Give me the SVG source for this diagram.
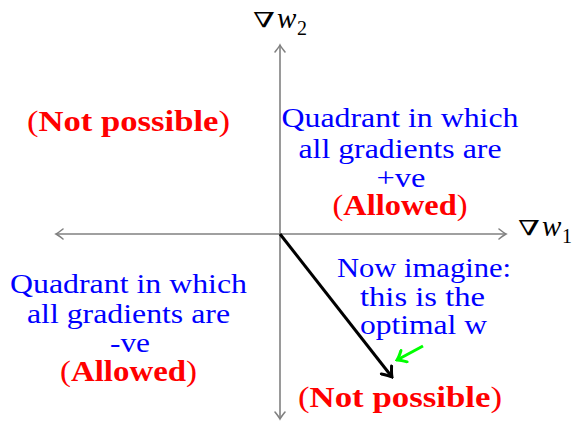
<svg xmlns="http://www.w3.org/2000/svg" width="576" height="422" viewBox="0 0 576 422">
<style>
text{font-family:"Liberation Serif","DejaVu Serif",serif;font-size:30px;text-anchor:middle}
.b{fill:#0000ff;font-size:27px}
.r{fill:#ff0000;font-weight:bold}
.p{font-weight:normal}
.lab text{text-anchor:start;fill:#000}
.nab{font-family:"DejaVu Serif",serif;font-size:21px}
.w{font-style:italic;font-size:29px}
.sub{font-size:20px}
.axis{stroke:#808080;stroke-width:1.6;fill:none}
</style>
<defs>
<marker id="ag" markerUnits="userSpaceOnUse" viewBox="-10 -7 12 14" refX="0" refY="0" markerWidth="12" markerHeight="14" orient="auto-start-reverse">
<path d="M-7,-5 Q-2,-1 0,0 Q-2,1 -7,5" fill="none" stroke="#808080" stroke-width="1.6" stroke-linecap="round"/>
</marker>
<marker id="ak" markerUnits="userSpaceOnUse" viewBox="-12 -8 14 16" refX="0" refY="0" markerWidth="14" markerHeight="16" orient="auto">
<path d="M-9,-6.5 Q-3,-1.5 0,0 Q-3,1.5 -9,6.5" fill="none" stroke="#000" stroke-width="3" stroke-linecap="round"/>
</marker>
<marker id="agr" markerUnits="userSpaceOnUse" viewBox="-12 -8 14 16" refX="0" refY="0" markerWidth="14" markerHeight="16" orient="auto">
<path d="M-8,-6.5 Q-3,-1.5 0,0 Q-3,1.5 -8,6.5" fill="none" stroke="#00ff00" stroke-width="3" stroke-linecap="round"/>
</marker>
</defs>
<g id="connectors">
<line id="xaxis" class="axis" x1="56" y1="234" x2="506" y2="234" marker-start="url(#ag)" marker-end="url(#ag)"/>
<line id="yaxis" class="axis" x1="280" y1="419" x2="280" y2="45" marker-start="url(#ag)" marker-end="url(#ag)"/>
<line id="optimal" x1="280" y1="234" x2="392" y2="377" stroke="#000" stroke-width="3" marker-end="url(#ak)"/>
<line id="pointer" x1="423" y1="346" x2="397" y2="360" stroke="#00ff00" stroke-width="3" marker-end="url(#agr)"/>
</g>
<g id="label-y" class="lab">
<text class="nab" x="253" y="27" textLength="22" lengthAdjust="spacingAndGlyphs">∇</text>
<text class="w" x="277" y="28">w</text>
<text class="sub" x="297" y="35">2</text>
</g>
<g id="label-x" class="lab">
<text class="nab" x="518" y="235" textLength="22" lengthAdjust="spacingAndGlyphs">∇</text>
<text class="w" x="542" y="236">w</text>
<text class="sub" x="562" y="243">1</text>
</g>
<g id="top-left">
<text class="r" x="128.5" y="131" textLength="203" lengthAdjust="spacingAndGlyphs"><tspan class="p">(</tspan>Not possible<tspan class="p">)</tspan></text>
</g>
<g id="top-right">
<text class="b" x="400" y="127" textLength="237" lengthAdjust="spacingAndGlyphs">Quadrant in which</text>
<text class="b" x="400" y="158" textLength="203" lengthAdjust="spacingAndGlyphs">all gradients are</text>
<text class="b" x="401" y="187" textLength="49" lengthAdjust="spacingAndGlyphs">+ve</text>
<text class="r" x="400" y="215" textLength="135" lengthAdjust="spacingAndGlyphs"><tspan class="p">(</tspan>Allowed<tspan class="p">)</tspan></text>
</g>
<g id="bottom-left">
<text class="b" x="128.5" y="293" textLength="237" lengthAdjust="spacingAndGlyphs">Quadrant in which</text>
<text class="b" x="128.5" y="323" textLength="203" lengthAdjust="spacingAndGlyphs">all gradients are</text>
<text class="b" x="130" y="352" textLength="40" lengthAdjust="spacingAndGlyphs">-ve</text>
<text class="r" x="128.5" y="381" textLength="137" lengthAdjust="spacingAndGlyphs"><tspan class="p">(</tspan>Allowed<tspan class="p">)</tspan></text>
</g>
<g id="optimal-note">
<text class="b" x="424" y="277" textLength="174" lengthAdjust="spacingAndGlyphs">Now imagine:</text>
<text class="b" x="422.5" y="306" textLength="125" lengthAdjust="spacingAndGlyphs">this is the</text>
<text class="b" x="423.5" y="334" textLength="127" lengthAdjust="spacingAndGlyphs">optimal w</text>
</g>
<g id="bottom-right">
<text class="r" x="400" y="407" textLength="204" lengthAdjust="spacingAndGlyphs"><tspan class="p">(</tspan>Not possible<tspan class="p">)</tspan></text>
</g>
</svg>
